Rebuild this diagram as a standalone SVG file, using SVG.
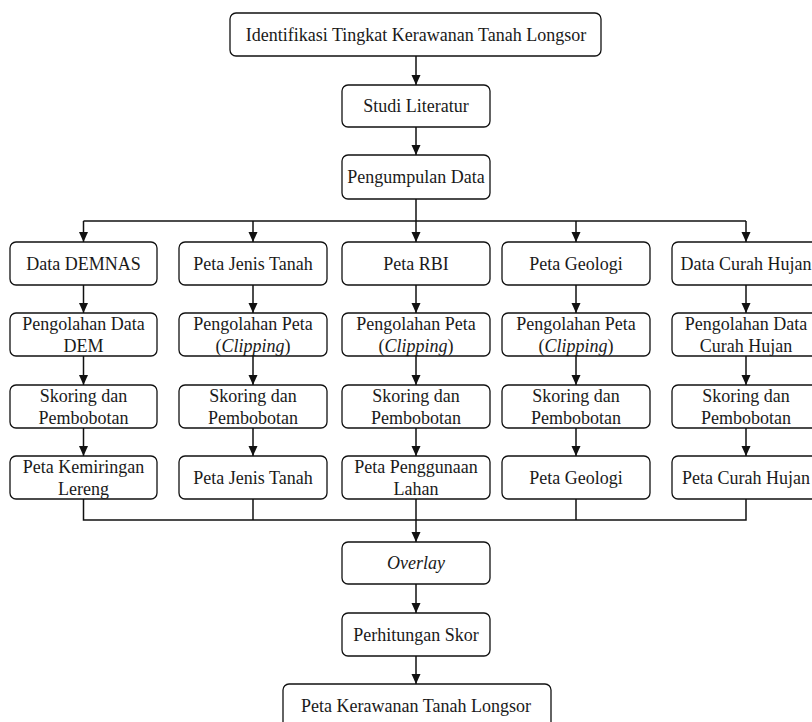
<svg xmlns="http://www.w3.org/2000/svg" width="812" height="722" viewBox="0 0 812 722">
<defs>
<marker id="ah" viewBox="0 0 10 10" refX="10" refY="5" markerWidth="10" markerHeight="10" markerUnits="userSpaceOnUse" orient="auto">
<path d="M0,0.5 L10,5 L0,9.5 Z" fill="#111"/>
</marker>
<style>
rect{fill:#fff;stroke:#111;stroke-width:1.3}
text{font-family:"Liberation Serif","Times New Roman",serif;font-size:18px;fill:#1a1a1a;text-anchor:middle}
.c{fill:none;stroke:#111;stroke-width:1.5}
.i{font-style:italic}
</style>
</defs>
<rect x="0" y="0" width="812" height="722" style="fill:#fff;stroke:none"/>
<g id="connectors">
<path class="c" d="M416,56 V85" marker-end="url(#ah)"/>
<path class="c" d="M416,127 V155" marker-end="url(#ah)"/>
<path class="c" d="M416,199 V221"/>
<path class="c" d="M83.5,221 H746"/>
<path class="c" d="M83.5,221 V242" marker-end="url(#ah)"/>
<path class="c" d="M253,221 V242" marker-end="url(#ah)"/>
<path class="c" d="M416,221 V242" marker-end="url(#ah)"/>
<path class="c" d="M576,221 V242" marker-end="url(#ah)"/>
<path class="c" d="M746,221 V242" marker-end="url(#ah)"/>
<path class="c" d="M83.5,285 V313" marker-end="url(#ah)"/>
<path class="c" d="M253,285 V313" marker-end="url(#ah)"/>
<path class="c" d="M416,285 V313" marker-end="url(#ah)"/>
<path class="c" d="M576,285 V313" marker-end="url(#ah)"/>
<path class="c" d="M746,285 V313" marker-end="url(#ah)"/>
<path class="c" d="M83.5,356 V385" marker-end="url(#ah)"/>
<path class="c" d="M253,356 V385" marker-end="url(#ah)"/>
<path class="c" d="M416,356 V385" marker-end="url(#ah)"/>
<path class="c" d="M576,356 V385" marker-end="url(#ah)"/>
<path class="c" d="M746,356 V385" marker-end="url(#ah)"/>
<path class="c" d="M83.5,428 V456" marker-end="url(#ah)"/>
<path class="c" d="M253,428 V456" marker-end="url(#ah)"/>
<path class="c" d="M416,428 V456" marker-end="url(#ah)"/>
<path class="c" d="M576,428 V456" marker-end="url(#ah)"/>
<path class="c" d="M746,428 V456" marker-end="url(#ah)"/>
<path class="c" d="M83.5,499 V520 H746 V499"/>
<path class="c" d="M253,499 V520"/>
<path class="c" d="M576,499 V520"/>
<path class="c" d="M416,499 V542" marker-end="url(#ah)"/>
<path class="c" d="M416,584 V613" marker-end="url(#ah)"/>
<path class="c" d="M416,656 V684" marker-end="url(#ah)"/>
</g>
<g id="n_identifikasi"><rect x="230" y="13" width="371" height="43" rx="6"/><text x="416" y="40.5">Identifikasi Tingkat Kerawanan Tanah Longsor</text></g>
<g id="n_studi"><rect x="342" y="85" width="148" height="42" rx="6"/><text x="416" y="112">Studi Literatur</text></g>
<g id="n_pengumpulan"><rect x="342" y="155" width="148" height="44" rx="6"/><text x="416" y="183">Pengumpulan Data</text></g>

<g id="n_demnas"><rect x="10" y="242" width="147" height="43" rx="6"/><text x="83.5" y="269.5">Data DEMNAS</text></g>
<g id="n_jenis"><rect x="179" y="242" width="148" height="43" rx="6"/><text x="253" y="269.5">Peta Jenis Tanah</text></g>
<g id="n_rbi"><rect x="342" y="242" width="148" height="43" rx="6"/><text x="416" y="269.5">Peta RBI</text></g>
<g id="n_geologi"><rect x="502" y="242" width="148" height="43" rx="6"/><text x="576" y="269.5">Peta Geologi</text></g>
<g id="n_curah"><rect x="672" y="242" width="148" height="43" rx="6"/><text x="746" y="269.5">Data Curah Hujan</text></g>

<g id="n_olah_dem"><rect x="10" y="313" width="147" height="43" rx="6"/><text x="83.5" y="330">Pengolahan Data</text><text x="83.5" y="351.5">DEM</text></g>
<g id="n_olah_jenis"><rect x="179" y="313" width="148" height="43" rx="6"/><text x="253" y="330">Pengolahan Peta</text><text x="253" y="351.5">(<tspan class="i">Clipping</tspan>)</text></g>
<g id="n_olah_rbi"><rect x="342" y="313" width="148" height="43" rx="6"/><text x="416" y="330">Pengolahan Peta</text><text x="416" y="351.5">(<tspan class="i">Clipping</tspan>)</text></g>
<g id="n_olah_geologi"><rect x="502" y="313" width="148" height="43" rx="6"/><text x="576" y="330">Pengolahan Peta</text><text x="576" y="351.5">(<tspan class="i">Clipping</tspan>)</text></g>
<g id="n_olah_curah"><rect x="672" y="313" width="148" height="43" rx="6"/><text x="746" y="330">Pengolahan Data</text><text x="746" y="351.5">Curah Hujan</text></g>

<g id="n_skor1"><rect x="10" y="385" width="147" height="43" rx="6"/><text x="83.5" y="402">Skoring dan</text><text x="83.5" y="423.5">Pembobotan</text></g>
<g id="n_skor2"><rect x="179" y="385" width="148" height="43" rx="6"/><text x="253" y="402">Skoring dan</text><text x="253" y="423.5">Pembobotan</text></g>
<g id="n_skor3"><rect x="342" y="385" width="148" height="43" rx="6"/><text x="416" y="402">Skoring dan</text><text x="416" y="423.5">Pembobotan</text></g>
<g id="n_skor4"><rect x="502" y="385" width="148" height="43" rx="6"/><text x="576" y="402">Skoring dan</text><text x="576" y="423.5">Pembobotan</text></g>
<g id="n_skor5"><rect x="672" y="385" width="148" height="43" rx="6"/><text x="746" y="402">Skoring dan</text><text x="746" y="423.5">Pembobotan</text></g>

<g id="n_kemiringan"><rect x="10" y="456" width="147" height="43" rx="6"/><text x="83.5" y="473">Peta Kemiringan</text><text x="83.5" y="494.5">Lereng</text></g>
<g id="n_peta_jenis"><rect x="179" y="456" width="148" height="43" rx="6"/><text x="253" y="483.5">Peta Jenis Tanah</text></g>
<g id="n_penggunaan"><rect x="342" y="456" width="148" height="43" rx="6"/><text x="416" y="473">Peta Penggunaan</text><text x="416" y="494.5">Lahan</text></g>
<g id="n_peta_geologi"><rect x="502" y="456" width="148" height="43" rx="6"/><text x="576" y="483.5">Peta Geologi</text></g>
<g id="n_peta_curah"><rect x="672" y="456" width="148" height="43" rx="6"/><text x="746" y="483.5">Peta Curah Hujan</text></g>

<g id="n_overlay"><rect x="342" y="542" width="148" height="42" rx="6"/><text class="i" x="416" y="569">Overlay</text></g>
<g id="n_perhitungan"><rect x="342" y="613" width="148" height="43" rx="6"/><text x="416" y="640.5">Perhitungan Skor</text></g>
<g id="n_kerawanan"><rect x="283" y="684" width="268" height="44" rx="6"/><text x="416" y="711.5">Peta Kerawanan Tanah Longsor</text></g>
</svg>
